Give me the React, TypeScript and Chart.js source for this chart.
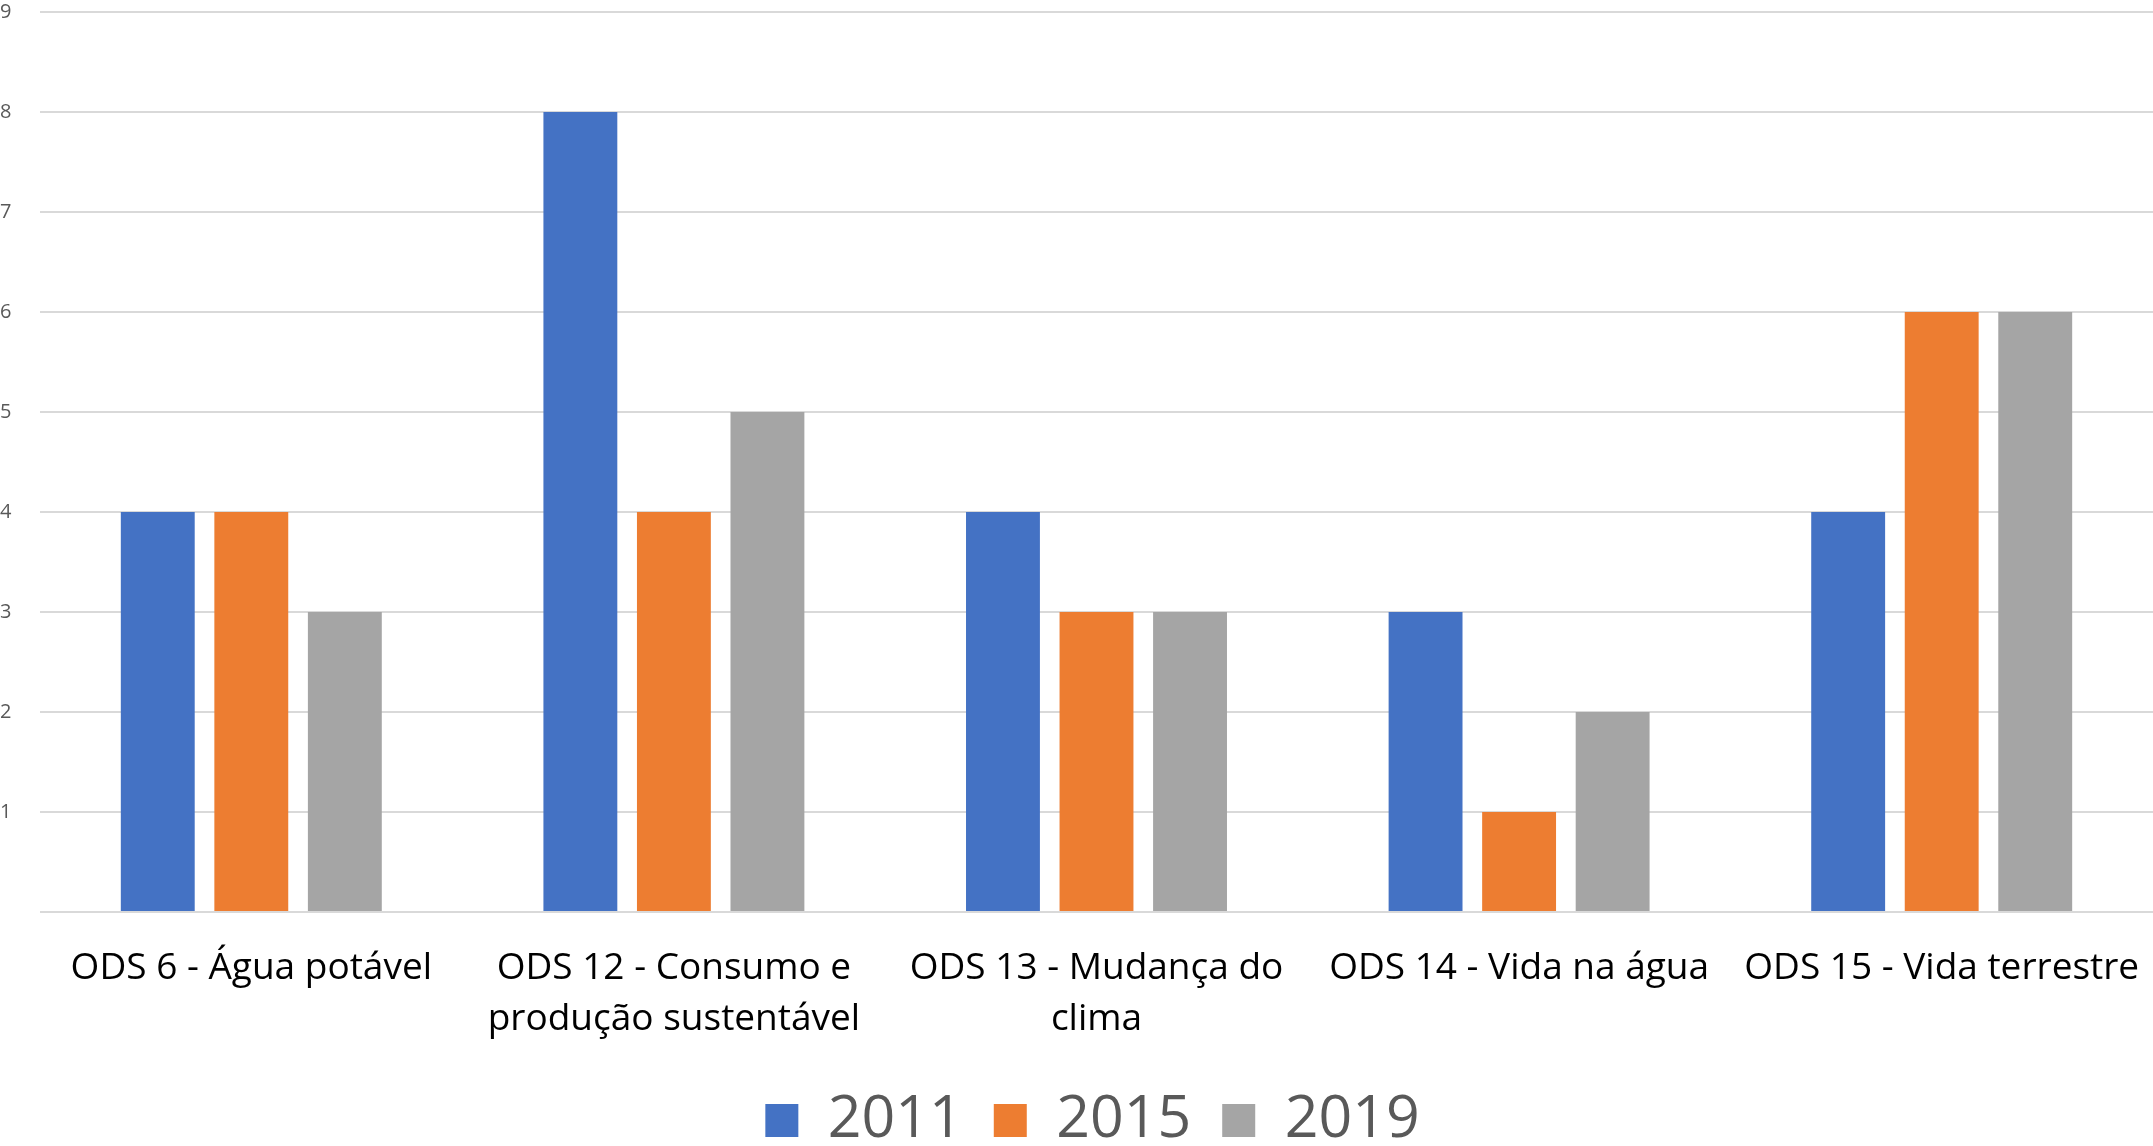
import React, { useEffect, useRef } from "react";
import { Chart, registerables } from "chart.js";

Chart.register(...registerables);

const categories: (string | string[])[] = [
  "ODS 6 - Água potável",
  ["ODS 12 - Consumo e", "produção sustentável"],
  ["ODS 13 - Mudança do", "clima"],
  "ODS 14 - Vida na água",
  "ODS 15 - Vida terrestre",
];
const series2011 = [4, 8, 4, 3, 4];
const series2015 = [4, 4, 3, 1, 6];
const series2019 = [3, 5, 3, 2, 6];
const seriesLabels = ["2011", "2015", "2019"];
const yTicks = [0, 1, 2, 3, 4, 5, 6, 7, 8, 9];

const legendShift = {
  id: "legendShift",
  afterLayout(chart: any) {
    if (chart.legend) {
      chart.legend.left += 16;
      chart.legend.right += 16;
    }
  },
};

export default function App() {
  const ref = useRef<HTMLCanvasElement | null>(null);
  useEffect(() => {
    if (!ref.current) return;
    const fam = "'Open Sans'";
    const chart = new Chart(ref.current, {
      type: "bar",
      data: {
        labels: categories,
        datasets: [
          { label: seriesLabels[0], data: series2011, backgroundColor: "#4472C4" },
          { label: seriesLabels[1], data: series2015, backgroundColor: "#ED7D31" },
          { label: seriesLabels[2], data: series2019, backgroundColor: "#A5A5A5" },
        ],
      },
      plugins: [legendShift],
      options: {
        animation: false,
        responsive: false,
        maintainAspectRatio: false,
        layout: { padding: { top: 12, right: 0, bottom: -14, left: 0 } },
        datasets: { bar: { categoryPercentage: 0.664, barPercentage: 0.79 } },
        plugins: {
          tooltip: { enabled: false },
          legend: {
            position: "bottom",
            labels: {
              boxWidth: 33,
              boxHeight: 33,
              padding: 31,
              color: "#595959",
              font: { family: fam, size: 59, lineHeight: 1.0 },
            },
          },
        },
        scales: {
          x: {
            grid: { display: false, drawTicks: false },
            border: { display: false },
            afterFit: (scale: any) => {
              scale.paddingRight = 0;
              scale.paddingLeft = 0;
              scale.height -= 16;
            },
            ticks: {
              color: "#000000",
              padding: 31,
              maxRotation: 0,
              autoSkip: false,
              font: { family: fam, size: 37, lineHeight: 51 / 37 },
            },
          },
          y: {
            min: 0,
            max: 9,
            afterBuildTicks: (scale: any) => {
              scale.ticks = yTicks.map((v) => ({ value: v }));
            },
            afterFit: (scale: any) => {
              scale.width = 40;
            },
            grid: { color: "#D9D9D9", lineWidth: 2, drawTicks: false },
            border: { display: false },
            ticks: {
              color: "#595959",
              padding: 0,
              crossAlign: "far",
              font: { family: fam, size: 20 },
              callback: (v: any) => (v === 0 ? "" : String(v)),
            },
          },
        },
      },
    });
    return () => chart.destroy();
  }, []);
  return (
    <div style={{ position: "fixed", left: 0, top: 0, width: 2153, height: 1146, background: "#fff" }}>
      <canvas ref={ref} width={2153} height={1146} style={{ display: "block" }} />
    </div>
  );
}
